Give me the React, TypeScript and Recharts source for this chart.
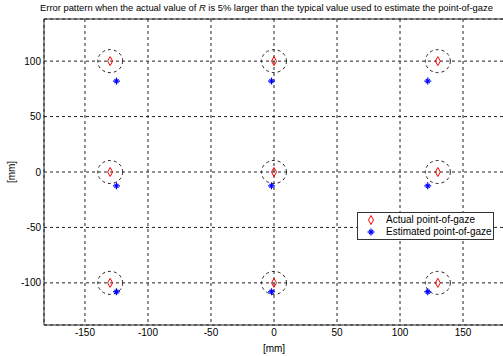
import React from "react";
import {
  ScatterChart,
  Scatter,
  XAxis,
  YAxis,
  CartesianGrid,
  ReferenceLine,
  Legend,
} from "recharts";

// Actual point-of-gaze positions (mm)
const actualX = [-130, 0, 130, -130, 0, 130, -130, 0, 130];
const actualY = [100, 100, 100, 0, 0, 0, -100, -100, -100];

// Estimated point-of-gaze positions (mm)
const estimatedX = [-125, -2, 122, -125, -2, 122, -125, -2, 122];
const estimatedY = [82, 82, 82, -12.5, -12.5, -12.5, -108, -108, -108];

const xTicks = [-150, -100, -50, 0, 50, 100, 150];
const yTicks = [-100, -50, 0, 50, 100];
const xDomain = [-182.5, 182.5];
const yDomain = [-138, 138];

const titleText = "Error pattern when the actual value of ";
const titleTail = " is 5% larger than the typical value used to estimate the point-of-gaze";

const actualData = actualX.map((x, i) => ({ x, y: actualY[i] }));
const estimatedData = estimatedX.map((x, i) => ({ x, y: estimatedY[i] }));

const FONT = "'Liberation Sans', Arial, sans-serif";
const INK = "#222";

const Diamond = (props: any) => {
  const { cx, cy } = props;
  return (
    <polygon
      points={`${cx},${cy - 4.5} ${cx + 2.5},${cy} ${cx},${cy + 4.5} ${cx - 2.5},${cy}`}
      fill="none"
      stroke="#ff0000"
      strokeWidth={1}
    />
  );
};

const Ring = (props: any) => {
  const { cx, cy } = props;
  return (
    <ellipse cx={cx} cy={cy} rx={12.5} ry={11.5} fill="none" stroke={INK} strokeWidth={1} strokeDasharray="3 3" />
  );
};

const Star = (props: any) => {
  const { cx, cy } = props;
  const r = 3.5;
  const d = 2;
  return (
    <g stroke="#0000ff" strokeWidth={1.2}>
      <line x1={cx - r} y1={cy} x2={cx + r} y2={cy} />
      <line x1={cx} y1={cy - r} x2={cx} y2={cy + r} />
      <line x1={cx - d} y1={cy - d} x2={cx + d} y2={cy + d} />
      <line x1={cx - d} y1={cy + d} x2={cx + d} y2={cy - d} />
    </g>
  );
};

const LegendBox = () => (
  <div
    style={{
      width: 135,
      height: 25,
      border: "1px solid #333",
      background: "#fff",
      fontFamily: FONT,
      fontSize: 10,
      color: "#000",
      lineHeight: "12px",
      paddingTop: 1,
      boxSizing: "content-box",
    }}
  >
    <div style={{ display: "flex", alignItems: "center", height: 12 }}>
      <svg width={28} height={12}>
        <Diamond cx={13} cy={6} />
      </svg>
      <span>Actual point-of-gaze</span>
    </div>
    <div style={{ display: "flex", alignItems: "center", height: 12 }}>
      <svg width={28} height={12}>
        <Star cx={13} cy={6} />
      </svg>
      <span>Estimated point-of-gaze</span>
    </div>
  </div>
);

const YLabel = (props: any) => {
  const { viewBox } = props;
  const cy = viewBox.y + viewBox.height / 2;
  return (
    <text x={15} y={cy} transform={`rotate(-90, 15, ${cy})`} textAnchor="middle" fontSize={10} fontFamily={FONT} fill="#000">
      [mm]
    </text>
  );
};

export default function App() {
  return (
    <div style={{ position: "absolute", left: 0, top: 0, width: 503, height: 356, overflow: "hidden", background: "#fff" }}>
      <div
        style={{
          position: "absolute",
          left: 40,
          top: 2,
          fontFamily: FONT,
          fontSize: 9.4,
          whiteSpace: "nowrap",
          color: "#000",
        }}
      >
        {titleText}
        <i>R</i>
        {titleTail}
      </div>
      <ScatterChart width={520} height={356} margin={{ top: 19, right: 16, bottom: 0, left: 0 }}>
        <CartesianGrid stroke={INK} strokeDasharray="3 3" strokeWidth={1} />
        <XAxis
          type="number"
          dataKey="x"
          domain={xDomain}
          ticks={xTicks}
          height={31}
          tickSize={0}
          tickMargin={4}
          tickLine={false}
          axisLine={{ stroke: INK }}
          tick={{ fontSize: 10, fontFamily: FONT, fill: "#000" }}
          allowDataOverflow
          label={{ value: "[mm]", position: "insideBottom", offset: 4, fontSize: 10, fontFamily: FONT, fill: "#000" }}
        />
        <YAxis
          type="number"
          dataKey="y"
          domain={yDomain}
          ticks={yTicks}
          width={44}
          tickSize={0}
          tickMargin={3}
          tickLine={false}
          axisLine={{ stroke: INK }}
          tick={{ fontSize: 10, fontFamily: FONT, fill: "#000" }}
          allowDataOverflow
          label={<YLabel />}
        />
        <ReferenceLine y={yDomain[1]} stroke={INK} strokeWidth={1} />
        <ReferenceLine x={xDomain[1]} stroke={INK} strokeWidth={1} />
        <Scatter data={actualData} shape={<Ring />} legendType="none" isAnimationActive={false} />
        <Scatter name="Actual point-of-gaze" data={actualData} shape={<Diamond />} isAnimationActive={false} />
        <Scatter name="Estimated point-of-gaze" data={estimatedData} shape={<Star />} isAnimationActive={false} />
        <Legend
          layout="horizontal"
          align="center"
          verticalAlign="middle"
          wrapperStyle={{ left: 357, top: 212, width: 137 }}
          content={<LegendBox />}
        />
      </ScatterChart>
    </div>
  );
}
